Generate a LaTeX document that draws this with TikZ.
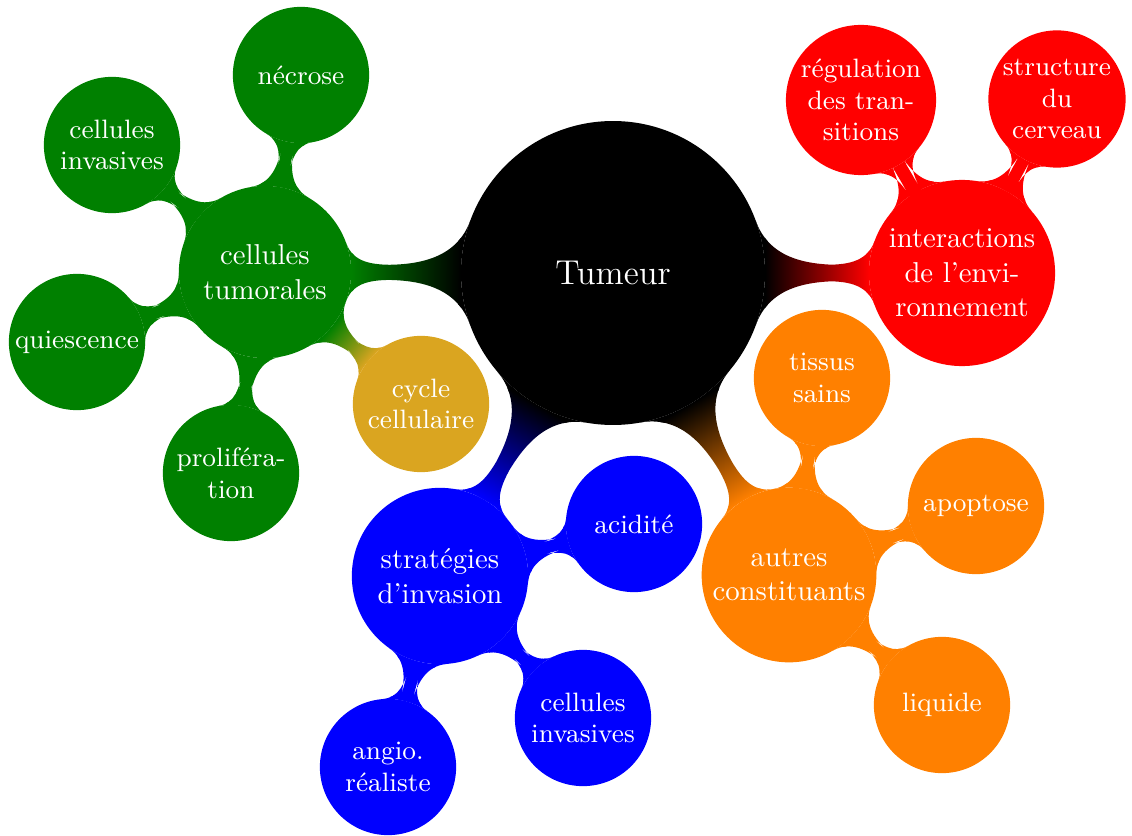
\documentclass[tikz,border=0pt]{standalone}
\usetikzlibrary{mindmap,backgrounds}
\definecolor{mmgreen}{RGB}{0,128,0}
\definecolor{mmgold}{RGB}{218,165,32}
\definecolor{mmorange}{RGB}{255,128,0}
\begin{document}
\begin{tikzpicture}[x=0.01222cm,y=-0.01222cm,
  cpt/.style={circle, fill=#1, draw=#1, line width=1pt, text=white, align=center, inner sep=0pt, font=\normalsize},
  rootc/.style={cpt=black, minimum size=3.68cm, font=\large},
  lone/.style={cpt=#1, minimum size=2.07cm},
  ltwo/.style={cpt=#1, minimum size=1.63cm, font=\fontsize{9.25}{11}\selectfont},
  bar one/.style={line width=2.8pt},
  bar two/.style={line width=2.1pt}]
\useasboundingbox (0,0) rectangle (1132,836);
% root
\node[rootc] (root) at (613,273) {Tumeur};
% level 1
\node[lone=mmgreen] (ct) at (265,272) {cellules\\tumorales};
\node[lone=red, minimum size=2.24cm] (inter) at (962,273) {interactions\\de l’envi-\\ronnement};
\node[lone=mmorange, minimum size=2.10cm] (autres) at (789,575) {autres\\constituants};
\node[lone=blue, minimum size=2.12cm] (strat) at (440,576) {stratégies\\d’invasion};
% level 2 green
\node[ltwo=mmgreen] (necrose) at (301,75) {nécrose};
\node[ltwo=mmgreen] (ci1) at (112,145) {cellules\\invasives};
\node[ltwo=mmgreen] (quies) at (77,342) {quiescence};
\node[ltwo=mmgreen] (prolif) at (231,473) {proliféra-\\tion};
\node[ltwo=mmgold] (cycle) at (421,404) {cycle\\cellulaire};
% level 2 red
\node[ltwo=red, minimum size=1.80cm] (regul) at (861,100) {régulation\\des tran-\\sitions};
\node[ltwo=red] (struct) at (1057,99) {structure\\du\\cerveau};
% level 2 orange
\node[ltwo=mmorange] (tissus) at (822,378) {tissus\\sains};
\node[ltwo=mmorange] (apopt) at (976,506) {apoptose};
\node[ltwo=mmorange] (liquide) at (942,705) {liquide};
% level 2 blue
\node[ltwo=blue] (acid) at (634,524) {acidité};
\node[ltwo=blue] (ci2) at (583,718) {cellules\\invasives};
\node[ltwo=blue] (angio) at (388,767) {angio.\\réaliste};
% connection bars
\begin{scope}[on background layer]
\path[bar one] (root) to[circle connection bar switch color=from (black) to (mmgreen)] (ct);
\path[bar one] (root) to[circle connection bar switch color=from (black) to (red)] (inter);
\path[bar one] (root) to[circle connection bar switch color=from (black) to (mmorange)] (autres);
\path[bar one] (root) to[circle connection bar switch color=from (black) to (blue)] (strat);
\path[bar two] (ct) to[circle connection bar switch color=from (mmgreen) to (mmgreen)] (necrose);
\path[bar two] (ct) to[circle connection bar switch color=from (mmgreen) to (mmgreen)] (ci1);
\path[bar two] (ct) to[circle connection bar switch color=from (mmgreen) to (mmgreen)] (quies);
\path[bar two] (ct) to[circle connection bar switch color=from (mmgreen) to (mmgreen)] (prolif);
\path[bar two] (ct) to[circle connection bar switch color=from (mmgreen) to (mmgold)] (cycle);
\path[bar two] (inter) to[circle connection bar switch color=from (red) to (red)] (regul);
\path[bar two] (inter) to[circle connection bar switch color=from (red) to (red)] (struct);
\path[bar two] (autres) to[circle connection bar switch color=from (mmorange) to (mmorange)] (tissus);
\path[bar two] (autres) to[circle connection bar switch color=from (mmorange) to (mmorange)] (apopt);
\path[bar two] (autres) to[circle connection bar switch color=from (mmorange) to (mmorange)] (liquide);
\path[bar two] (strat) to[circle connection bar switch color=from (blue) to (blue)] (acid);
\path[bar two] (strat) to[circle connection bar switch color=from (blue) to (blue)] (ci2);
\path[bar two] (strat) to[circle connection bar switch color=from (blue) to (blue)] (angio);
\end{scope}
\end{tikzpicture}
\end{document}
